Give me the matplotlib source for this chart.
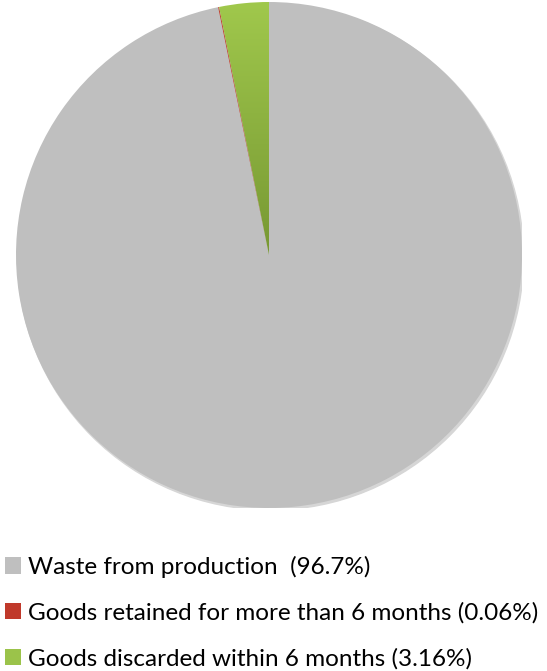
import numpy as np
import matplotlib
matplotlib.use("Agg")
import matplotlib.pyplot as plt
from matplotlib.patches import Patch

labels = ["Waste from production  (96.7%)",
          "Goods retained for more than 6 months (0.06%)",
          "Goods discarded within 6 months (3.16%)"]
shares = [96.7, 0.06, 3.16]
colors = ["#BFBFBF", "#C0392B", "#9BC34A"]

plt.rcParams['font.family'] = ['Lato', 'DejaVu Sans']

fig = plt.figure(figsize=(5.47, 6.71), dpi=100)
ax = fig.add_axes([16 / 547, 163 / 671, 506 / 547, 506 / 671])

# faint shadow behind the pie
shadow = plt.Circle((0.006, -0.008), 1.0, color="#d6d6d6", zorder=0)
ax.add_patch(shadow)

wedges, _ = ax.pie(shares, colors=colors, startangle=90, counterclock=False,
                   wedgeprops=dict(linewidth=0))
for w in wedges:
    w.set_zorder(1)

# vertical gradient in the green slice
green = wedges[2]
green.set_facecolor("none")
grad = np.linspace(0, 1, 256).reshape(-1, 1)
cmap = matplotlib.colors.LinearSegmentedColormap.from_list("g", ["#779833", "#A0C84C"])
img = ax.imshow(grad, extent=[-0.3, 0.1, 0, 1.0], origin="lower", cmap=cmap,
                aspect="auto", zorder=2)
img.set_clip_path(green)

ax.set_xlim(-1.0, 1.0)
ax.set_ylim(-1.0, 1.0)
ax.set_aspect("equal")
ax.axis("off")

handles = [Patch(facecolor=c, edgecolor="none") for c in colors]
fig.legend(handles, labels, loc="upper left", bbox_to_anchor=(0.0, 1 - 551 / 671),
           frameon=False, fontsize=17.5, handlelength=0.65, handleheight=0.65,
           handletextpad=0.3, labelspacing=1.0, borderaxespad=0, borderpad=0.2)

fig.savefig("out.png", dpi=100)
